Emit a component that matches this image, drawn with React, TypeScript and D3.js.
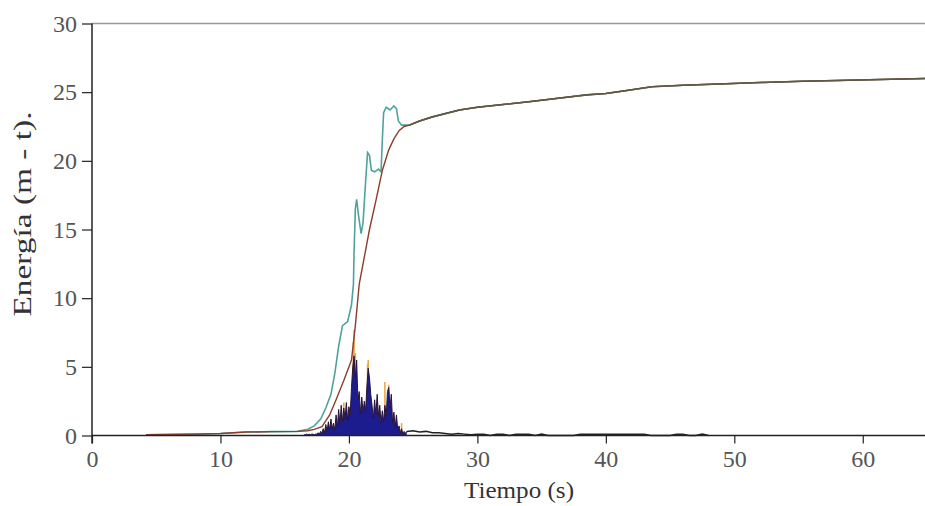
import React, { useEffect, useRef } from 'react';
import * as d3 from 'd3';

// total energy (teal) – time (s), value (m-t)
const totalT = [4.2, 8, 10, 12, 14, 16, 16.8, 17.3, 17.8, 18.2, 18.6, 18.9, 19.2, 19.5, 19.9, 20.2, 20.35, 20.4, 20.5, 20.6, 20.75, 20.95, 21.1, 21.3, 21.45, 21.6, 21.75, 22.0, 22.3, 22.5, 22.6, 22.7, 22.9, 23.2, 23.5, 23.7, 23.85, 24.1, 24.5];
const totalV = [0.05, 0.1, 0.15, 0.25, 0.28, 0.3, 0.45, 0.7, 1.2, 2.0, 3.0, 4.5, 6.5, 8.0, 8.3, 9.5, 11, 13.3, 16.5, 17.2, 16.0, 14.7, 15.5, 18.5, 20.6, 20.4, 19.3, 19.2, 19.4, 19.2, 21.5, 23.5, 23.9, 23.7, 24.0, 23.8, 22.9, 22.6, 22.6];

// accumulated energy (red)
const accT = [4.2, 8, 10, 12, 14, 16, 16.8, 17.3, 17.9, 18.5, 19.0, 19.6, 20.2, 20.5, 20.8, 21.2, 21.6, 22.1, 22.6, 23.1, 23.5, 23.9, 24.3, 24.7];
const accV = [0.05, 0.1, 0.15, 0.25, 0.28, 0.3, 0.35, 0.45, 0.65, 1.5, 2.6, 4.0, 5.5, 8.0, 11.0, 13.0, 15.0, 17.1, 19.3, 20.8, 21.6, 22.2, 22.5, 22.6];

// shared tail after both curves meet
const tailT = [24.7, 25.5, 26.5, 28.6, 30, 32, 34, 35.8, 38.5, 40, 41.5, 43.6, 46, 48.8, 52, 55.3, 58, 60.5, 65];
const tailV = [22.6, 22.9, 23.2, 23.7, 23.9, 24.1, 24.3, 24.5, 24.8, 24.9, 25.1, 25.4, 25.5, 25.6, 25.7, 25.8, 25.85, 25.9, 26.0];

// kinetic energy (blue), sampled every 0.1 s from 16.5 s
const kinStart = 16.5;
const kinStep = 0.1;
const kinV = [
  0.05, 0.05, 0.1, 0.05, 0.1, 0.05, 0.1, 0.1, 0.05, 0.1,
  0.1, 0.2, 0.1, 0.3, 0.2, 0.5, 0.2, 0.8, 0.3, 1.0,
  0.4, 1.2, 0.5, 0.9, 0.4, 1.5, 0.6, 1.9, 0.8, 2.2,
  1.0, 2.0, 1.2, 2.4, 1.1, 2.1, 1.5, 3.5, 5.0, 5.8,
  4.2, 5.5, 2.6, 3.2, 1.6, 2.8, 1.7, 2.5, 1.8, 3.6,
  4.9, 4.2, 3.0, 2.2, 1.2, 2.6, 1.5, 3.0, 1.4, 2.2,
  0.9, 1.8, 1.0, 2.2, 1.4, 3.2, 3.5, 2.0, 3.0, 0.9,
  1.7, 0.6, 1.5, 0.4, 0.7, 0.2, 0.5, 0.1, 0.3, 0.15,
  0.3,
];

// low noise after the event, every 0.5 s from 24.5 s
const noiseStart = 24.5;
const noiseStep = 0.5;
const noiseV = [
  0.3, 0.35, 0.25, 0.3, 0.2, 0.2, 0.15, 0.1, 0.15, 0.1, 0.05,
  0.1, 0.1, 0.0, 0.1, 0.1, 0.0, 0.1, 0.1, 0.1, 0.0,
  0.1, 0.0, 0.0, 0.0, 0.0, 0.0, 0.1, 0.1, 0.1, 0.1,
  0.1, 0.1, 0.1, 0.1, 0.1, 0.1, 0.1, 0.0, 0.0, 0.0,
  0.0, 0.1, 0.1, 0.0, 0.0, 0.1, 0.0,
];

// orange spikes peeking above the blue
const spikeT = [19.6, 20.35, 20.4, 20.5, 21.45, 21.5, 22.8, 23.1, 24.1];
const spikeV = [2.4, 6.8, 7.7, 6.0, 5.2, 5.5, 3.9, 3.7, 0.9];

const xTicks = [0, 10, 20, 30, 40, 50, 60];
const yTicks = [0, 5, 10, 15, 20, 25, 30];

const W = 925;
const H = 506;

export default function App() {
  const svgRef = useRef<SVGSVGElement>(null);

  useEffect(() => {
    const svg = d3.select(svgRef.current);
    svg.selectAll('*').remove();

    const x = d3.scaleLinear().domain([0, 65]).range([92, 927]);
    const y = d3.scaleLinear().domain([0, 30]).range([435.5, 23.5]);

    const font = '"Liberation Serif", "Times New Roman", serif';

    // top frame line
    svg.append('line')
      .attr('x1', x(0)).attr('x2', W)
      .attr('y1', y(30)).attr('y2', y(30))
      .attr('stroke', '#999').attr('stroke-width', 1.5);

    const line = d3.line<[number, number]>()
      .x(d => x(d[0]))
      .y(d => y(d[1]));

    const tail: [number, number][] = tailT.map((t, i) => [t, tailV[i]]);
    const total: [number, number][] = totalT.map((t, i) => [t, totalV[i]] as [number, number]).concat(tail);
    const acc: [number, number][] = accT.map((t, i) => [t, accV[i]] as [number, number]).concat(tail.slice(1));
    const kin: [number, number][] = kinV.map((v, i) => [kinStart + i * kinStep, v] as [number, number]);
    const noise: [number, number][] = noiseV.map((v, i) => [noiseStart + i * noiseStep, v] as [number, number]);

    // orange spikes
    svg.append('g')
      .selectAll('line')
      .data(spikeT)
      .enter()
      .append('line')
      .attr('x1', d => x(d)).attr('x2', d => x(d))
      .attr('y1', y(0))
      .attr('y2', (d, i) => y(spikeV[i]))
      .attr('stroke', '#e8a84e')
      .attr('stroke-width', 1.6);

    // kinetic energy area
    const area = d3.area<[number, number]>()
      .x(d => x(d[0]))
      .y0(y(0))
      .y1(d => y(d[1]));

    svg.append('path')
      .datum(kin)
      .attr('d', area)
      .attr('fill', '#1c1c8e');

    svg.append('path')
      .datum(kin)
      .attr('d', line)
      .attr('fill', 'none')
      .attr('stroke', '#2a1436')
      .attr('stroke-width', 1);

    svg.append('path')
      .datum(noise)
      .attr('d', line)
      .attr('fill', 'none')
      .attr('stroke', '#222')
      .attr('stroke-width', 1.5);

    // total energy (teal)
    svg.append('path')
      .datum(total)
      .attr('d', line)
      .attr('fill', 'none')
      .attr('stroke', '#4fa39b')
      .attr('stroke-width', 1.6);

    // accumulated energy (brown-red)
    svg.append('path')
      .datum(acc)
      .attr('d', line)
      .attr('fill', 'none')
      .attr('stroke', '#8a3f2c')
      .attr('stroke-width', 1.4);

    // where the two curves overlap the line reads dark olive
    svg.append('path')
      .datum(tail)
      .attr('d', line)
      .attr('fill', 'none')
      .attr('stroke', '#5f5a48')
      .attr('stroke-width', 1.6);

    // axes
    const xAxis = d3.axisBottom(x).tickValues(xTicks).tickSize(8).tickPadding(6);
    const gx = svg.append('g')
      .attr('transform', `translate(0, ${y(0)})`)
      .call(xAxis);
    gx.select('.domain').attr('d', `M${x(0)},0H${W}`).attr('stroke', '#222').attr('stroke-width', 1.5);
    gx.selectAll('.tick line').attr('stroke', '#222').attr('stroke-width', 1.2);
    gx.selectAll('.tick text')
      .attr('font-family', font)
      .attr('font-size', 24)
      .attr('fill', '#555');

    const yAxis = d3.axisLeft(y).tickValues(yTicks).tickSize(10).tickPadding(5);
    const gy = svg.append('g')
      .attr('transform', `translate(${x(0)}, 0)`)
      .call(yAxis);
    gy.select('.domain').attr('d', `M0,${y(30)}V${y(0) + 8}`).attr('stroke', '#222').attr('stroke-width', 1.5);
    gy.selectAll('.tick line').attr('stroke', '#222').attr('stroke-width', 1.2);
    gy.selectAll('.tick text')
      .attr('font-family', font)
      .attr('font-size', 24)
      .attr('fill', '#555');

    // axis titles
    svg.append('text')
      .attr('x', 519)
      .attr('y', 498)
      .attr('text-anchor', 'middle')
      .attr('font-family', font)
      .attr('font-size', 24)
      .attr('textLength', 110)
      .attr('lengthAdjust', 'spacingAndGlyphs')
      .attr('fill', '#333')
      .text('Tiempo (s)');

    svg.append('text')
      .attr('transform', 'translate(31, 214) rotate(-90)')
      .attr('text-anchor', 'middle')
      .attr('font-family', font)
      .attr('font-size', 25)
      .attr('textLength', 205)
      .attr('lengthAdjust', 'spacingAndGlyphs')
      .attr('fill', '#333')
      .text('Energía (m - t).');
  }, []);

  return (
    <svg
      ref={svgRef}
      width={W}
      height={H}
      style={{ position: 'absolute', left: 0, top: 0, background: '#fff' }}
    />
  );
}
